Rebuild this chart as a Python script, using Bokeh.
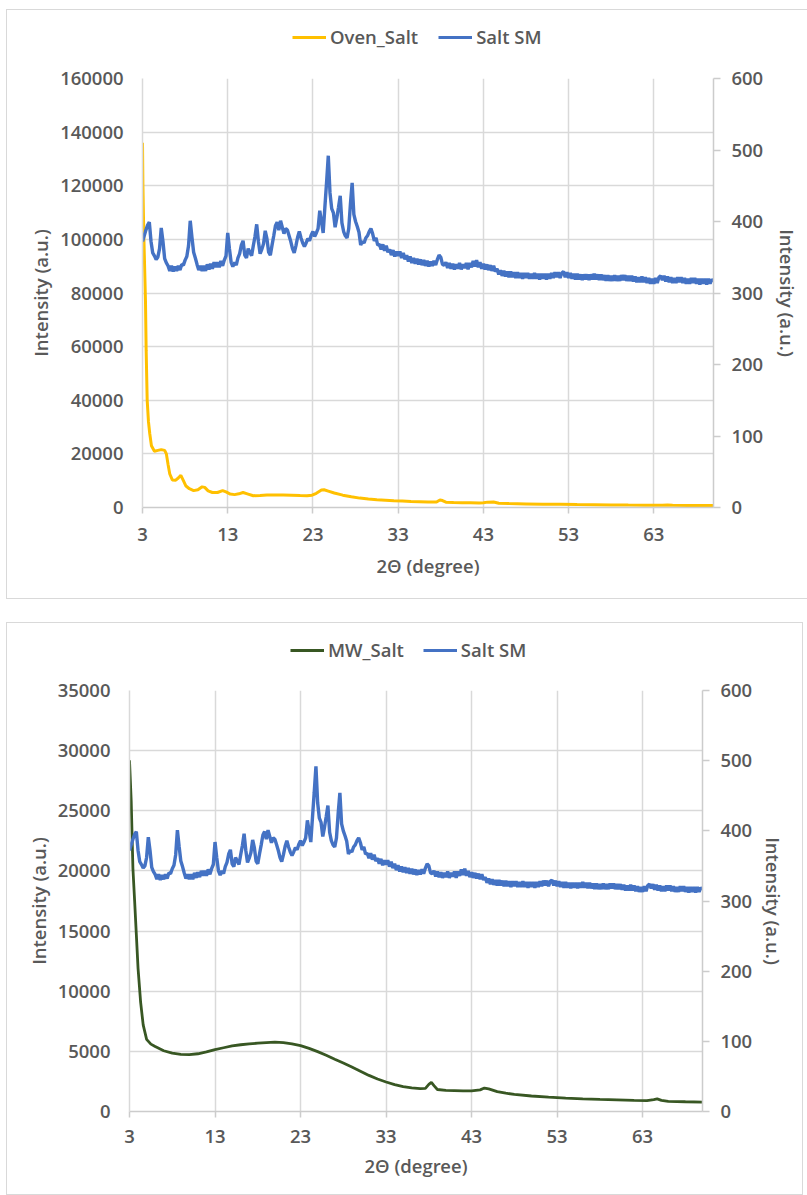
from bokeh.plotting import figure
from bokeh.models import (Range1d, LinearAxis, FixedTicker, Legend, LegendItem,
                          BasicTickFormatter)
from bokeh.layouts import column
from bokeh.embed import file_html
from bokeh.resources import INLINE

FONT = "Open Sans SemiBold, Open Sans"
FONT_SIZE = "18.5px"
TEXT = "#595959"
GRID = "#d9d9d9"
AXIS = "#cccccc"
BLUE = "#4472c4"

# tick positions
two_theta_ticks = [3, 13, 23, 33, 43, 53, 63]
oven_ticks = [0, 20000, 40000, 60000, 80000, 100000, 120000, 140000, 160000]
mw_ticks = [0, 5000, 10000, 15000, 20000, 25000, 30000, 35000]
sm_ticks = [0, 100, 200, 300, 400, 500, 600]

# Salt SM pattern, step 0.2 degree starting at 3.0 (secondary axis, a.u.)
sm_start, sm_step = 3.0, 0.2
salt_sm = [
    372, 380, 388, 395, 399,   # 3
    372, 356, 352, 347, 350,   # 4
    362, 391, 372, 348, 342,   # 5
    338, 331, 338, 330, 337,   # 6
    331, 338, 332, 340, 339,   # 7
    346, 351, 366, 401, 378,   # 8
    357, 349, 340, 332, 338,   # 9
    331, 338, 331, 340, 333,   # 10
    341, 334, 343, 336, 343,   # 11
    336, 345, 338, 346, 352,   # 12
    384, 362, 343, 337, 343,   # 13
    339, 349, 355, 367, 373,   # 14
    353, 349, 362, 357, 352,   # 15
    366, 379, 396, 372, 355,   # 16
    361, 369, 387, 376, 357,   # 17
    353, 367, 380, 394, 399,   # 18
    388, 401, 392, 383, 390,   # 19
    388, 380, 372, 362, 356,   # 20
    366, 378, 386, 377, 370,   # 21
    365, 370, 376, 373, 381,   # 22
    386, 379, 384, 390, 415,   # 23
    400, 384, 420, 455, 492,   # 24
    440, 418, 412, 392, 405,   # 25
    420, 436, 398, 386, 380,   # 26
    377, 390, 425, 454, 410,   # 27
    400, 393, 385, 367, 372,   # 28
    370, 377, 380, 386, 390,   # 29
    383, 373, 377, 367, 368,   # 30
    361, 368, 359, 366, 357,   # 31
    361, 353, 360, 351, 358,   # 32
    352, 358, 349, 356, 347,   # 33
    353, 344, 351, 342, 349,   # 34
    341, 348, 340, 347, 339,   # 35
    346, 338, 345, 337, 344,   # 36
    338, 345, 339, 347, 353,   # 37
    350, 340, 339, 343, 335,   # 38
    342, 334, 341, 333, 340,   # 39
    334, 342, 333, 340, 335,   # 40
    342, 333, 342, 336, 345,   # 41
    337, 346, 336, 343, 334,   # 42
    341, 333, 340, 332, 339,   # 43
    331, 338, 330, 334, 326,   # 44
    332, 324, 331, 323, 330,   # 45
    322, 330, 322, 329, 321,   # 46
    329, 321, 328, 320, 328,   # 47
    321, 328, 320, 327, 320,   # 48
    328, 320, 327, 319, 327,   # 49
    320, 327, 319, 327, 320,   # 50
    328, 321, 329, 322, 329,   # 51
    321, 328, 330, 322, 329,   # 52
    321, 328, 320, 327, 319,   # 53
    327, 319, 326, 318, 326,   # 54
    319, 326, 318, 326, 319,   # 55
    327, 319, 326, 318, 326,   # 56
    318, 325, 317, 325, 317,   # 57
    324, 317, 325, 317, 324,   # 58
    317, 325, 318, 325, 317,   # 59
    324, 317, 324, 316, 323,   # 60
    315, 322, 315, 323, 315,   # 61
    322, 314, 321, 313, 320,   # 62
    313, 321, 314, 322, 324,   # 63
    318, 324, 316, 323, 315,   # 64
    322, 314, 321, 314, 322,   # 65
    315, 322, 314, 321, 313,   # 66
    320, 313, 321, 314, 321,   # 67
    313, 320, 312, 320, 313,   # 68
    320, 312, 320, 313, 319,   # 69
    316,                       # 70
]
salt_sm_x = [round(sm_start + sm_step * i, 2) for i in range(len(salt_sm))]

# oven-dried salt
oven_x = [3.0, 3.05, 3.15, 3.35, 3.43, 3.55, 3.7, 3.85, 4.05, 4.4, 4.8, 5.2, 5.6,
          5.8, 6.0, 6.2, 6.5, 6.9, 7.2, 7.5, 7.8, 8.1, 8.5, 9.0, 9.5, 10.0, 10.3,
          10.7, 11.2, 11.8, 12.4, 12.8, 13.3, 13.8, 14.3, 14.8, 15.3, 16.0, 16.8,
          17.6, 18.5, 19.5, 20.5, 21.5, 22.3, 22.9, 23.4, 24.0, 24.3, 24.8, 25.5,
          26.5, 27.5, 28.5, 29.5, 30.5, 31.5, 32.5, 33.5, 34.5, 35.5, 36.5, 37.5,
          37.9, 38.2, 38.6, 39.5, 40.5, 41.5, 42.5, 43.0, 43.5, 44.2, 44.8, 46.0,
          48.0, 50.0, 52.0, 54.0, 56.0, 58.0, 60.0, 62.0, 64.0, 64.6, 65.2, 67.0,
          70.0]
oven_y = [136000, 120000, 102000, 77000, 58500, 40000, 32000, 27600, 23000, 21000,
          21300, 21600, 21300, 20000, 16000, 12500, 10300, 10200, 11000, 12000,
          10000, 8000, 7000, 6300, 6600, 7700, 7500, 6200, 5600, 5600, 6300, 5800,
          5000, 4800, 5100, 5600, 5100, 4400, 4500, 4700, 4700, 4650, 4600, 4450,
          4400, 4600, 5300, 6500, 6600, 6100, 5400, 4600, 4000, 3500, 3150, 2900,
          2700, 2500, 2400, 2250, 2150, 2050, 2050, 2800, 2600, 2000, 1850, 1800,
          1750, 1700, 1750, 2000, 2050, 1600, 1450, 1350, 1250, 1200, 1100, 1050,
          950, 900, 880, 850, 950, 820, 780, 700]

# microwave-dried salt
mw_x = [3.0, 3.2, 3.4, 3.6, 3.8, 4.0, 4.3, 4.6, 5.0, 5.5, 6.0, 7.0, 8.0, 9.0, 10.0,
        11.0, 12.0, 13.0, 14.0, 15.0, 16.0, 17.0, 18.0, 19.0, 20.0, 21.0, 22.0,
        23.0, 24.0, 25.0, 26.0, 27.0, 28.0, 29.0, 30.0, 31.0, 32.0, 33.0, 34.0,
        35.0, 36.0, 37.0, 37.6, 38.0, 38.3, 38.6, 39.0, 40.0, 41.0, 42.0, 43.0,
        44.0, 44.5, 45.0, 46.0, 47.0, 48.0, 50.0, 52.0, 54.0, 56.0, 58.0, 60.0,
        62.0, 63.5, 64.3, 64.7, 65.2, 66.0, 68.0, 70.0]
mw_y = [29200, 25800, 20200, 17500, 14700, 11900, 9100, 7200, 6000, 5600, 5400,
        5050, 4850, 4750, 4720, 4800, 4950, 5150, 5300, 5450, 5550, 5620, 5680,
        5720, 5760, 5720, 5620, 5480, 5250, 4980, 4680, 4350, 4030, 3700, 3350,
        3000, 2700, 2450, 2230, 2070, 1960, 1900, 1920, 2250, 2420, 2150, 1830,
        1760, 1740, 1720, 1720, 1800, 1950, 1880, 1650, 1520, 1420, 1290, 1190,
        1110, 1050, 1000, 970, 930, 910, 990, 1050, 930, 850, 810, 780]


def style_axis(ax, tick_out, label_standoff, title_standoff):
    ax.axis_line_color = AXIS
    ax.axis_line_width = 1.5
    ax.major_tick_line_color = AXIS
    ax.major_tick_line_width = 1.5
    ax.major_tick_in = 0
    ax.major_tick_out = tick_out
    ax.minor_tick_line_color = None
    ax.major_label_text_font = FONT
    ax.major_label_text_font_size = FONT_SIZE
    ax.major_label_text_color = TEXT
    ax.major_label_standoff = label_standoff
    ax.axis_label_text_font = FONT
    ax.axis_label_text_font_size = FONT_SIZE
    ax.axis_label_text_font_style = "normal"
    ax.axis_label_text_color = TEXT
    ax.axis_label_standoff = title_standoff


def legend_strip(width, height, name, x, y, color, lw, loc, spacing):
    """Strip above a chart that carries only its legend row; the series
    themselves fall outside this strip's ranges, so only the key shows."""
    s = figure(width=width, height=height, output_backend="svg",
               toolbar_location=None, title=None,
               x_axis_location=None, y_axis_location=None,
               x_range=Range1d(0, 1), y_range=Range1d(0, 1),
               min_border=0)
    s.outline_line_color = None
    s.grid.grid_line_color = None
    s.border_fill_color = "white"
    r_main = s.line(x, y, line_color=color, line_width=lw)
    r_sm = s.line(salt_sm_x, salt_sm, line_color=BLUE, line_width=3)
    legend = Legend(items=[LegendItem(label=name, renderers=[r_main]),
                           LegendItem(label="Salt SM", renderers=[r_sm])],
                    location=loc, orientation="horizontal",
                    spacing=spacing, padding=0, margin=0,
                    glyph_width=34, label_standoff=4,
                    border_line_color=None, background_fill_alpha=0,
                    label_text_font=FONT, label_text_font_size=FONT_SIZE,
                    label_text_color=TEXT)
    s.add_layout(legend)
    return s


def chart(width, height, borders, ymax, yticks, x, y, color, lw, standoffs):
    left, right, top, bottom = borders
    x_lab, x_title, y_title, r_title = standoffs
    p = figure(width=width, height=height, output_backend="svg",
               toolbar_location=None, title=None,
               x_range=Range1d(3, 70), y_range=Range1d(0, ymax),
               min_border_left=left, min_border_right=right,
               min_border_top=top, min_border_bottom=bottom,
               x_axis_label="2Θ (degree)", y_axis_label="Intensity (a.u.)")
    p.outline_line_color = None
    p.background_fill_color = "white"
    p.border_fill_color = "white"

    p.extra_y_ranges = {"sm": Range1d(0, 600)}
    right_ax = LinearAxis(y_range_name="sm", axis_label="Intensity (a.u.)",
                          ticker=FixedTicker(ticks=sm_ticks))
    p.add_layout(right_ax, "right")

    p.xaxis.ticker = FixedTicker(ticks=two_theta_ticks)
    p.yaxis[0].ticker = FixedTicker(ticks=yticks)
    p.yaxis[0].formatter = BasicTickFormatter(use_scientific=False)

    style_axis(p.xaxis[0], 6, x_lab, x_title)
    style_axis(p.yaxis[0], 0, 19, y_title)
    style_axis(right_ax, 7, 11, r_title)
    p.yaxis[0].axis_line_color = GRID

    p.xgrid.grid_line_color = GRID
    p.ygrid.grid_line_color = GRID
    p.xgrid.grid_line_width = 1.5
    p.ygrid.grid_line_width = 1.5

    p.line(x, y, line_color=color, line_width=lw)
    p.line(salt_sm_x, salt_sm, line_color=BLUE, line_width=3.4,
           y_range_name="sm")
    return p


frame_css = "1px solid #d9d9d9"

# the strip's frame lines up with the chart frame below it, so the legend
# offset is measured from the chart's left axis
leg1 = legend_strip(800, 54, "Oven_Salt", oven_x, oven_y, "#ffc000", 3,
                    (150, 15), 20)
p1 = chart(800, 534, (135, 94, 14, 91), 160000, oven_ticks, oven_x, oven_y,
           "#ffc000", 3, (14, 9, 4, 9))
top_block = column(leg1, p1, spacing=0,
                   styles={"border-top": frame_css, "border-left": frame_css,
                           "border-bottom": frame_css})

leg2 = legend_strip(795, 53, "MW_Salt", mw_x, mw_y, "#385723", 2.8,
                    (161, 14), 19)
p2 = chart(795, 518, (122, 100, 14, 83), 35000, mw_ticks, mw_x, mw_y,
           "#385723", 2.8, (12, 7, 4, 6))
bottom_block = column(leg2, p2, spacing=0, styles={"border": frame_css})

page = column(top_block, bottom_block, spacing=23, margin=(9, 0, 0, 6))

with open("out.html", "w") as f:
    f.write(file_html(page, INLINE))
